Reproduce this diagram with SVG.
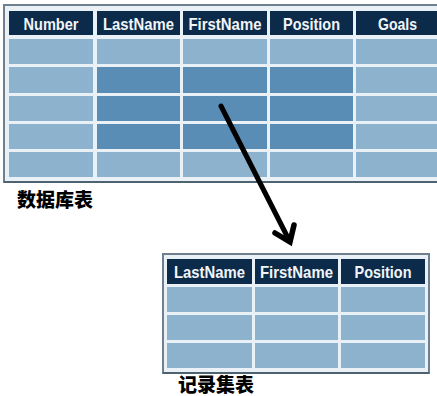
<svg xmlns="http://www.w3.org/2000/svg" width="437" height="396" viewBox="0 0 437 396">
<defs>
<style>
.frame{fill:#eaf1f6;stroke:#6e8090;stroke-width:2}
.hd{fill:#0c2b4b}
.lt{fill:#8db2ce}
.dk{fill:#5a8db6}
.ht{font-family:"Liberation Sans Narrow","Liberation Sans",Arial,sans-serif;font-weight:bold;font-size:16.5px;fill:#f2f5f8;text-anchor:middle}
.lbl{font-family:"Noto Sans CJK SC","Noto Sans",sans-serif;font-weight:900;font-size:19px;fill:#000}
</style>
</defs>
<rect width="437" height="396" fill="#ffffff"/>
<g id="database-table">
<rect class="frame" x="4" y="5" width="440" height="177"/>
<line x1="4" y1="182" x2="437" y2="182" stroke="#4f6270" stroke-width="2"/>
<rect class="hd" x="9" y="11" width="84" height="24"/>
<rect class="hd" x="97" y="11" width="83" height="24"/>
<rect class="hd" x="183" y="11" width="84" height="24"/>
<rect class="hd" x="270" y="11" width="83" height="24"/>
<rect class="hd" x="356" y="11" width="90" height="24"/>
<text class="ht" x="51" y="29.5" textLength="55" lengthAdjust="spacingAndGlyphs">Number</text>
<text class="ht" x="138.5" y="29.5" textLength="71" lengthAdjust="spacingAndGlyphs">LastName</text>
<text class="ht" x="225" y="29.5" textLength="73" lengthAdjust="spacingAndGlyphs">FirstName</text>
<text class="ht" x="311.5" y="29.5" textLength="57" lengthAdjust="spacingAndGlyphs">Position</text>
<text class="ht" x="397.5" y="29.5" textLength="39" lengthAdjust="spacingAndGlyphs">Goals</text>
<!-- row 1 -->
<rect class="lt" x="9" y="39" width="84" height="25"/>
<rect class="lt" x="97" y="39" width="83" height="25"/>
<rect class="lt" x="183" y="39" width="84" height="25"/>
<rect class="lt" x="270" y="39" width="83" height="25"/>
<rect class="lt" x="356" y="39" width="90" height="25"/>
<!-- row 2 -->
<rect class="lt" x="9" y="67" width="84" height="26"/>
<rect class="dk" x="97" y="67" width="83" height="26"/>
<rect class="dk" x="183" y="67" width="84" height="26"/>
<rect class="dk" x="270" y="67" width="83" height="26"/>
<rect class="lt" x="356" y="67" width="90" height="26"/>
<!-- row 3 -->
<rect class="lt" x="9" y="96" width="84" height="25"/>
<rect class="dk" x="97" y="96" width="83" height="25"/>
<rect class="dk" x="183" y="96" width="84" height="25"/>
<rect class="dk" x="270" y="96" width="83" height="25"/>
<rect class="lt" x="356" y="96" width="90" height="25"/>
<!-- row 4 -->
<rect class="lt" x="9" y="124" width="84" height="25"/>
<rect class="dk" x="97" y="124" width="83" height="25"/>
<rect class="dk" x="183" y="124" width="84" height="25"/>
<rect class="dk" x="270" y="124" width="83" height="25"/>
<rect class="lt" x="356" y="124" width="90" height="25"/>
<!-- row 5 -->
<rect class="lt" x="9" y="152" width="84" height="25"/>
<rect class="lt" x="97" y="152" width="83" height="25"/>
<rect class="lt" x="183" y="152" width="84" height="25"/>
<rect class="lt" x="270" y="152" width="83" height="25"/>
<rect class="lt" x="356" y="152" width="90" height="25"/>
<text class="lbl" x="17" y="207">数据库表</text>
</g>
<g id="recordset-table">
<rect class="frame" x="163" y="254" width="266" height="119"/>
<line x1="163" y1="373" x2="429" y2="373" stroke="#4f6270" stroke-width="2"/>
<rect class="hd" x="167" y="259" width="85" height="25"/>
<rect class="hd" x="255" y="259" width="83" height="25"/>
<rect class="hd" x="341" y="259" width="84" height="25"/>
<text class="ht" x="209.5" y="278" textLength="71" lengthAdjust="spacingAndGlyphs">LastName</text>
<text class="ht" x="296.5" y="278" textLength="73" lengthAdjust="spacingAndGlyphs">FirstName</text>
<text class="ht" x="383" y="278" textLength="57" lengthAdjust="spacingAndGlyphs">Position</text>
<rect class="lt" x="167" y="287" width="85" height="25"/>
<rect class="lt" x="255" y="287" width="83" height="25"/>
<rect class="lt" x="341" y="287" width="84" height="25"/>
<rect class="lt" x="167" y="315" width="85" height="25"/>
<rect class="lt" x="255" y="315" width="83" height="25"/>
<rect class="lt" x="341" y="315" width="84" height="25"/>
<rect class="lt" x="167" y="343" width="85" height="25"/>
<rect class="lt" x="255" y="343" width="83" height="25"/>
<rect class="lt" x="341" y="343" width="84" height="25"/>
<text class="lbl" x="178" y="392">记录集表</text>
</g>
<g id="connectors">
<line x1="221" y1="106" x2="288" y2="238" stroke="#000" stroke-width="5" stroke-linecap="round"/>
<polyline points="275,233 290,242 294,225" fill="none" stroke="#000" stroke-width="5.5" stroke-linecap="round" stroke-linejoin="miter"/>
</g>
</svg>
